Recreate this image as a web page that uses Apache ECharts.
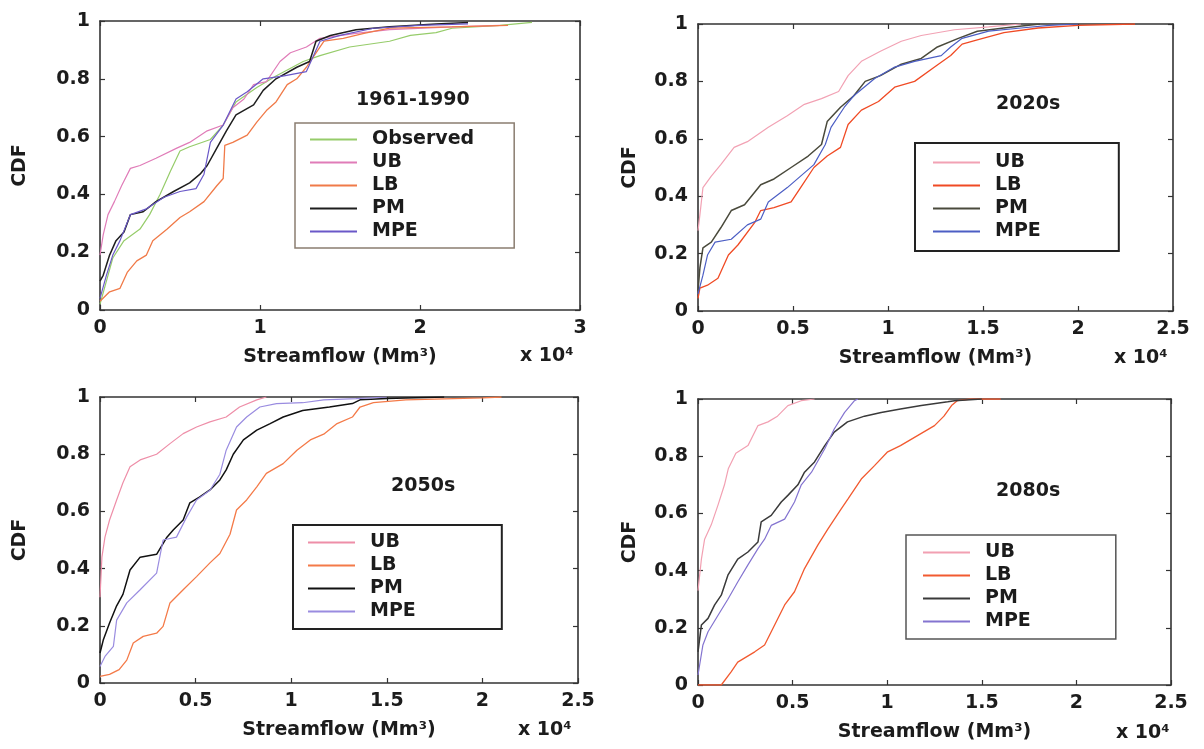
<!DOCTYPE html>
<html>
<head>
<meta charset="utf-8">
<title>CDF streamflow</title>
<script src="https://cdn.jsdelivr.net/npm/echarts@6/dist/echarts.min.js"></script>
<style>
html,body{margin:0;padding:0;background:#fff;}
#chart{width:1204px;height:749px;}
</style>
</head>
<body>
<div id="chart"></div>
<script>
// tick labels
var yTicks = [0, 0.2, 0.4, 0.6, 0.8, 1];
var xTicksBase = [0, 1, 2, 3];
var xTicksFuture = [0, 0.5, 1, 1.5, 2, 2.5];

var panelTitles = ["1961-1990", "2020s", "2050s", "2080s"];

// 1961-1990 (x in 10^4 Mm3, y = CDF)
var obs1 = [[0,0.02],[0.04,0.1],[0.08,0.18],[0.15,0.24],[0.25,0.28],[0.31,0.33],[0.375,0.4],[0.44,0.48],[0.5,0.55],[0.56,0.565],[0.69,0.59],[0.77,0.64],[0.85,0.72],[0.98,0.77],[1.1,0.81],[1.27,0.86],[1.375,0.88],[1.56,0.91],[1.81,0.93],[1.94,0.95],[2.1,0.96],[2.2,0.975],[2.5,0.985],[2.7,0.995]];
var ub1 = [[0,0.19],[0.02,0.26],[0.05,0.33],[0.09,0.375],[0.135,0.43],[0.19,0.49],[0.25,0.5],[0.35,0.525],[0.48,0.56],[0.56,0.58],[0.67,0.62],[0.77,0.64],[0.83,0.7],[0.9,0.73],[0.96,0.78],[1.04,0.79],[1.125,0.86],[1.19,0.89],[1.29,0.91],[1.375,0.94],[1.44,0.945],[1.6,0.957],[1.81,0.97],[2.2,0.98],[2.5,0.985]];
var lb1 = [[0,0.03],[0.06,0.063],[0.125,0.075],[0.17,0.13],[0.23,0.17],[0.29,0.19],[0.33,0.24],[0.42,0.28],[0.5,0.32],[0.56,0.34],[0.65,0.375],[0.73,0.43],[0.77,0.455],[0.78,0.57],[0.83,0.58],[0.92,0.605],[0.98,0.65],[1.04,0.69],[1.1,0.72],[1.17,0.78],[1.23,0.8],[1.29,0.84],[1.35,0.89],[1.4,0.93],[1.52,0.94],[1.65,0.957],[1.81,0.975],[2.2,0.98],[2.55,0.985]];
var pm1 = [[0,0.1],[0.02,0.12],[0.06,0.19],[0.1,0.24],[0.15,0.27],[0.19,0.33],[0.27,0.34],[0.35,0.375],[0.46,0.41],[0.56,0.44],[0.625,0.47],[0.67,0.5],[0.73,0.56],[0.79,0.62],[0.85,0.675],[0.96,0.71],[1.02,0.76],[1.1,0.8],[1.23,0.84],[1.31,0.86],[1.35,0.93],[1.44,0.95],[1.6,0.97],[1.81,0.98],[2.1,0.99],[2.3,0.995]];
var mpe1 = [[0,0.04],[0.04,0.12],[0.08,0.19],[0.125,0.24],[0.19,0.33],[0.29,0.35],[0.4,0.39],[0.5,0.41],[0.6,0.42],[0.65,0.47],[0.69,0.58],[0.77,0.64],[0.85,0.73],[0.92,0.755],[1.02,0.8],[1.15,0.81],[1.29,0.825],[1.375,0.93],[1.5,0.95],[1.71,0.975],[2.0,0.985],[2.3,0.99]];

// 2020s
var ub2 = [[0,0.28],[0.01,0.335],[0.026,0.43],[0.07,0.47],[0.12,0.51],[0.19,0.57],[0.26,0.59],[0.37,0.64],[0.47,0.68],[0.56,0.72],[0.65,0.74],[0.74,0.765],[0.79,0.82],[0.86,0.87],[0.96,0.905],[1.07,0.94],[1.175,0.96],[1.35,0.98],[1.53,0.99],[1.7,1.0]];
var lb2 = [[0,0.044],[0.01,0.08],[0.05,0.09],[0.105,0.114],[0.16,0.195],[0.21,0.23],[0.3,0.31],[0.33,0.35],[0.4,0.36],[0.49,0.38],[0.54,0.43],[0.61,0.5],[0.68,0.54],[0.75,0.57],[0.79,0.65],[0.86,0.7],[0.95,0.73],[1.035,0.78],[1.14,0.8],[1.245,0.85],[1.33,0.89],[1.39,0.93],[1.47,0.945],[1.61,0.97],[1.79,0.986],[2.0,0.995],[2.3,1.0]];
var pm2 = [[0,0.07],[0.01,0.15],[0.026,0.22],[0.07,0.24],[0.12,0.29],[0.175,0.35],[0.245,0.37],[0.33,0.44],[0.4,0.46],[0.49,0.5],[0.58,0.54],[0.65,0.58],[0.68,0.66],[0.75,0.71],[0.82,0.75],[0.88,0.8],[0.96,0.82],[1.07,0.86],[1.175,0.88],[1.26,0.92],[1.37,0.95],[1.47,0.975],[1.61,0.986],[1.8,1.0]];
var mpe2 = [[0,0.06],[0.026,0.125],[0.05,0.195],[0.09,0.24],[0.175,0.25],[0.26,0.3],[0.33,0.32],[0.37,0.38],[0.47,0.43],[0.54,0.47],[0.61,0.51],[0.67,0.58],[0.7,0.64],[0.77,0.71],[0.82,0.75],[0.93,0.81],[1.035,0.85],[1.14,0.87],[1.28,0.89],[1.33,0.92],[1.39,0.95],[1.53,0.975],[1.7,0.986],[1.85,0.995],[2.0,1.0]];

// 2050s
var ub3 = [[0,0.3],[0.01,0.44],[0.026,0.51],[0.05,0.57],[0.087,0.64],[0.12,0.7],[0.157,0.756],[0.21,0.78],[0.296,0.8],[0.366,0.837],[0.435,0.872],[0.505,0.895],[0.575,0.913],[0.66,0.93],[0.73,0.965],[0.82,0.99],[0.87,1.0]];
var lb3 = [[0,0.023],[0.05,0.03],[0.1,0.047],[0.14,0.08],[0.174,0.14],[0.226,0.163],[0.296,0.174],[0.33,0.198],[0.366,0.28],[0.435,0.326],[0.505,0.372],[0.575,0.42],[0.627,0.453],[0.68,0.52],[0.714,0.605],[0.767,0.64],[0.82,0.686],[0.87,0.733],[0.958,0.767],[1.03,0.814],[1.1,0.85],[1.17,0.87],[1.24,0.907],[1.32,0.93],[1.36,0.965],[1.43,0.98],[1.6,0.99],[2.0,0.997],[2.1,1.0]];
var pm3 = [[0,0.105],[0.017,0.15],[0.05,0.21],[0.087,0.27],[0.12,0.31],[0.157,0.395],[0.21,0.44],[0.296,0.45],[0.35,0.51],[0.383,0.535],[0.435,0.57],[0.47,0.63],[0.52,0.65],[0.575,0.675],[0.627,0.71],[0.66,0.745],[0.697,0.8],[0.75,0.85],[0.82,0.884],[0.89,0.907],[0.958,0.93],[1.06,0.953],[1.2,0.965],[1.32,0.977],[1.36,0.99],[1.5,0.995],[1.8,1.0]];
var mpe3 = [[0,0.058],[0.026,0.093],[0.07,0.128],[0.087,0.22],[0.14,0.28],[0.21,0.326],[0.296,0.384],[0.33,0.5],[0.4,0.51],[0.453,0.58],[0.505,0.64],[0.575,0.674],[0.627,0.73],[0.66,0.814],[0.714,0.895],[0.767,0.93],[0.836,0.965],[0.923,0.977],[1.06,0.98],[1.17,0.99],[1.34,0.994],[1.5,1.0]];

// 2080s
var ub4 = [[0,0.33],[0.018,0.44],[0.035,0.51],[0.07,0.56],[0.106,0.63],[0.14,0.7],[0.16,0.756],[0.2,0.81],[0.264,0.837],[0.317,0.907],[0.37,0.92],[0.42,0.94],[0.475,0.977],[0.546,0.994],[0.616,1.0]];
var lb4 = [[0,0],[0.123,0],[0.176,0.047],[0.21,0.08],[0.3,0.116],[0.352,0.14],[0.405,0.21],[0.458,0.28],[0.51,0.326],[0.563,0.407],[0.634,0.49],[0.687,0.546],[0.757,0.616],[0.792,0.65],[0.863,0.72],[0.933,0.767],[1.0,0.814],[1.07,0.837],[1.16,0.872],[1.25,0.907],[1.3,0.94],[1.34,0.977],[1.37,0.994],[1.44,1.0],[1.6,1.0]];
var pm4 = [[0,0.116],[0.018,0.21],[0.053,0.233],[0.088,0.28],[0.123,0.314],[0.158,0.384],[0.21,0.44],[0.264,0.465],[0.317,0.5],[0.334,0.57],[0.387,0.593],[0.44,0.64],[0.475,0.663],[0.528,0.7],[0.563,0.744],[0.616,0.78],[0.67,0.837],[0.72,0.884],[0.79,0.92],[0.88,0.94],[0.968,0.953],[1.07,0.965],[1.18,0.977],[1.32,0.99],[1.356,0.994],[1.5,1.0]];
var mpe4 = [[0,0.035],[0.026,0.14],[0.053,0.186],[0.106,0.244],[0.158,0.3],[0.21,0.36],[0.264,0.42],[0.317,0.477],[0.352,0.51],[0.387,0.558],[0.458,0.58],[0.51,0.64],[0.546,0.7],[0.6,0.744],[0.67,0.826],[0.72,0.895],[0.775,0.953],[0.827,0.994],[0.845,1.0]];

// which curves go in which panel
var panelSeries = [
	[["Observed", obs1, "#96cc6a", 1.2], ["UB", ub1, "#e07cb8", 1.2], ["LB", lb1, "#f07a48", 1.3], ["PM", pm1, "#1e1e1e", 1.5], ["MPE", mpe1, "#6a58c8", 1.2]],
	[["UB", ub2, "#f2a2b4", 1.2], ["LB", lb2, "#f04a24", 1.3], ["PM", pm2, "#4a4a3c", 1.5], ["MPE", mpe2, "#4c5ec4", 1.2]],
	[["UB", ub3, "#ee8ea8", 1.2], ["LB", lb3, "#f47a48", 1.3], ["PM", pm3, "#111111", 1.5], ["MPE", mpe3, "#9a8ce0", 1.2]],
	[["UB", ub4, "#f2a0b2", 1.2], ["LB", lb4, "#f25a30", 1.3], ["PM", pm4, "#3a3a3a", 1.5], ["MPE", mpe4, "#8474d0", 1.2]]
];

// layout of the four axes boxes
var layout = [
	{left: 100, top: 21, width: 480, height: 289, xMax: 3, xStep: 1, cdfGap: 70,
		legend: {left: 295, top: 123, padding: [7, 40, 7, 15], border: "#8a7d70", bw: 1.5},
		title: {left: 356, top: 91}, mult: {left: 520, top: 347}},
	{left: 698, top: 24, width: 475, height: 287, xMax: 2.5, xStep: 0.5, cdfGap: 58,
		legend: {left: 915, top: 143, padding: [10, 78, 10, 18], border: "#222", bw: 2},
		title: {left: 996, top: 95}, mult: {left: 1114, top: 349}},
	{left: 100, top: 397, width: 478, height: 286, xMax: 2.5, xStep: 0.5, cdfGap: 70,
		legend: {left: 293, top: 525, padding: [8, 86, 8, 15], border: "#222", bw: 2},
		title: {left: 391, top: 477}, mult: {left: 518, top: 721}},
	{left: 698, top: 399, width: 473, height: 286, xMax: 2.5, xStep: 0.5, cdfGap: 58,
		legend: {left: 906, top: 535, padding: [8, 85, 8, 17], border: "#555", bw: 1.5},
		title: {left: 996, top: 482}, mult: {left: 1116, top: 724}}
];

var FONT = "DejaVu Sans";
var TXT = "#1c1c1c";
var WEIGHT = "bold";

function frameAxis(pos, gridIndex, max, step, showLabel) {
	return {
		type: "value",
		gridIndex: gridIndex,
		position: pos,
		min: 0,
		max: max,
		interval: step,
		axisLine: {show: true, onZero: false, lineStyle: {color: "#333", width: 1.6}},
		axisTick: {show: true, inside: true, length: 5, lineStyle: {color: "#333", width: 1.2}},
		axisLabel: {show: showLabel, fontFamily: FONT, fontWeight: WEIGHT, fontSize: 19, color: TXT, margin: 9},
		splitLine: {show: false}
	};
}

function buildOption() {
	var grids = [], xAxes = [], yAxes = [], series = [], legends = [], titles = [];
	for (var i = 0; i < layout.length; i++) {
		var p = layout[i];
		grids.push({left: p.left, top: p.top, width: p.width, height: p.height, containLabel: false});

		var xb = frameAxis("bottom", i, p.xMax, p.xStep, true);
		xb.name = "Streamflow (Mm\u00b3)";
		xb.nameLocation = "middle";
		xb.nameGap = 38;
		xb.nameTextStyle = {fontFamily: FONT, fontWeight: WEIGHT, fontSize: 19, color: TXT};
		xAxes.push(xb);
		xAxes.push(frameAxis("top", i, p.xMax, p.xStep, false));

		var yl = frameAxis("left", i, 1, 0.2, true);
		yl.axisLabel.margin = 10;
		yl.name = "CDF";
		yl.nameLocation = "middle";
		yl.nameGap = p.cdfGap;
		yl.nameTextStyle = {fontFamily: FONT, fontWeight: WEIGHT, fontSize: 19, color: TXT};
		yAxes.push(yl);
		yAxes.push(frameAxis("right", i, 1, 0.2, false));

		var names = [];
		var list = panelSeries[i];
		for (var j = 0; j < list.length; j++) {
			var s = list[j];
			var sname = s[0] + "|" + i;
			names.push(sname);
			series.push({
				type: "line",
				name: sname,
				xAxisIndex: i * 2,
				yAxisIndex: i * 2,
				data: s[1],
				symbol: "none",
				silent: true,
				lineStyle: {color: s[2], width: s[3]},
				itemStyle: {color: s[2]}
			});
		}

		legends.push({
			orient: "vertical",
			left: p.legend.left,
			top: p.legend.top,
			padding: p.legend.padding,
			borderColor: p.legend.border,
			borderWidth: p.legend.bw,
			backgroundColor: "#fff",
			icon: "rect",
			itemWidth: 47,
			itemHeight: 2,
			itemGap: 4,
			selectedMode: false,
			data: names,
			formatter: function(name) {
				return name.split("|")[0];
			},
			textStyle: {fontFamily: FONT, fontWeight: WEIGHT, fontSize: 19, color: TXT, lineHeight: 19, padding: [0, 0, 0, 10]}
		});

		titles.push({
			text: panelTitles[i],
			left: p.title.left,
			top: p.title.top,
			padding: 0,
			textStyle: {fontFamily: FONT, fontSize: 19, fontWeight: WEIGHT, color: TXT}
		});
		titles.push({
			text: "x 10\u2074",
			left: p.mult.left,
			top: p.mult.top,
			padding: 0,
			textStyle: {fontFamily: FONT, fontSize: 19, fontWeight: WEIGHT, color: TXT}
		});
	}
	return {
		animation: false,
		backgroundColor: "#fff",
		title: titles,
		legend: legends,
		grid: grids,
		xAxis: xAxes,
		yAxis: yAxes,
		series: series
	};
}

var chart = echarts.init(document.getElementById("chart"), null, {renderer: "canvas"});
chart.setOption(buildOption());
</script>
</body>
</html>
